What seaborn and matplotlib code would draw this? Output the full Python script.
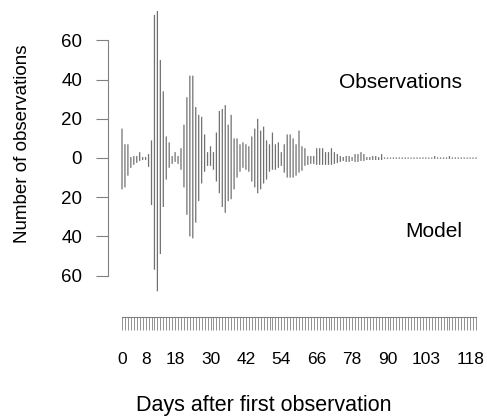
import numpy as np
import pandas as pd
import seaborn as sns
from matplotlib import pyplot as plt

# days after first observation (one bar per day)
days = list(range(121))

# observed counts per day (plotted upwards)
obs = [15, 7, 7, 0.5, 1, 1, 3, 0.5, 0.5, 2,
       9, 73, 75, 50, 34, 11, 8, 1, 3, 1,
       5, 17, 31, 42, 42, 26, 22, 21, 12, 3,
       6, 3, 13, 24, 25, 27, 17, 22, 10, 10,
       7, 8, 7, 6, 11, 15, 20, 14, 16, 9,
       7, 13, 7, 8, 3, 7, 12, 12, 10, 7,
       14, 6, 5, 1, 1, 1, 5, 5, 5, 3,
       3, 5, 3, 2, 1, 0.5, 1, 1, 0.5, 2,
       2, 3, 2, 0.5, 0.5, 1, 1, 0.5, 2, 0.3,
       0.3, 0.3, 0.3, 0.3, 0.3, 0.3, 0.3, 0.3, 0.3, 0.3,
       0.3, 0.3, 0.3, 0.3, 0.3, 0.3, 1, 0.3, 0.3, 0.3,
       0.3, 1, 0.3, 0.3, 0.3, 0.3, 0.3, 0.3, 0.3, 0.3,
       0.3]

# model counts per day (plotted downwards)
model = [16, 15, 9, 5, 3.5, 2.5, 1.5, 1, 1, 4.5,
         24, 57, 68, 49, 25, 11, 5, 3, 2, 3,
         6, 15, 29, 40, 41, 33, 22, 13, 7, 4,
         4, 6, 12, 18, 25, 28, 22, 21, 16, 10,
         7, 5, 6, 7, 12, 15, 18, 16, 13, 11,
         7, 6, 6, 5, 4, 7.5, 10, 10, 10, 9,
         7.5, 6.5, 4, 3.5, 3, 3, 3.5, 3.5, 3.5, 3.5,
         3.5, 3.5, 3, 2.5, 2, 1.5, 2, 2, 1.5, 2,
         2, 1.5, 1.5, 1, 1, 1, 1, 1, 1, 0.4,
         0.4, 0.4, 0.4, 0.4, 0.4, 0.4, 0.4, 0.4, 0.4, 0.4,
         0.4, 0.4, 0.4, 0.4, 0.4, 0.4, 0.5, 0.4, 0.4, 0.4,
         0.4, 0.5, 0.4, 0.4, 0.4, 0.4, 0.4, 0.4, 0.4, 0.4,
         0.4]

day_labels = [0, 8, 18, 30, 42, 54, 66, 78, 90, 103, 118]
y_ticks = [-60, -40, -20, 0, 20, 40, 60]

sns.set_style('white')
plt.rcParams['font.family'] = ['Liberation Sans', 'DejaVu Sans']
plt.rcParams['text.color'] = 'black'

W, H = 487, 418
fig = plt.figure(figsize=(W / 100, H / 100), dpi=100)

# pixel layout: day d at x = 122 + 2.95 d, value v at y = 158 - 1.96 v
px_day, px_val = 2.95, 1.96
ax_l, ax_r, ax_t, ax_b = 108, 480, 5, 300
ax = fig.add_axes([ax_l / W, 1 - ax_b / H, (ax_r - ax_l) / W, (ax_b - ax_t) / H])

bar_col = '#707070'
df = pd.DataFrame({'day': days, 'obs': obs, 'model': [-m for m in model]})
sns.barplot(data=df, x='day', y='obs', color=bar_col, width=0.42,
            saturation=1, errorbar=None, linewidth=0, snap=False, ax=ax)
sns.barplot(data=df, x='day', y='model', color=bar_col, width=0.42,
            saturation=1, errorbar=None, linewidth=0, snap=False, ax=ax)

ax.set_xlim((ax_l - 122) / px_day, (ax_r - 122) / px_day)
ax.set_ylim((158 - ax_b) / px_val, (158 - ax_t) / px_val)

for s in ['top', 'right']:
    ax.spines[s].set_visible(False)
spine_col = '#808080'
ax.spines['left'].set_color(spine_col)
ax.spines['left'].set_bounds(-60, 60)
ax.spines['bottom'].set_color(spine_col)
ax.spines['bottom'].set_position(('outward', 17 * 0.72))
ax.spines['bottom'].set_bounds(0, 120)

ax.set_yticks(y_ticks)
ax.set_yticklabels([str(abs(v)) for v in y_ticks])
ax.set_xticks(days)
ax.set_xticklabels([str(d) if d in day_labels else '' for d in days])
ax.tick_params(axis='y', direction='out', length=8.6, width=0.8,
               color=spine_col, pad=10, labelsize=13.5, labelcolor='black', left=True)
ax.tick_params(axis='x', direction='out', length=9.4, width=0.6,
               color=spine_col, pad=16, labelsize=12.5, labelcolor='black', bottom=True)
ax.set_xlabel('')
ax.set_ylabel('')

fig.text(462 / W, 1 - 82 / H, 'Observations', ha='right', va='center', fontsize=15)
fig.text(462 / W, 1 - 231 / H, 'Model', ha='right', va='center', fontsize=15)
fig.text(23 / W, 1 - 144 / H, 'Number of observations', rotation=90,
         ha='center', va='center', fontsize=13.5)
fig.text(264 / W, 1 - 406 / H, 'Days after first observation',
         ha='center', va='center', fontsize=15.5)

fig.savefig('out.png', dpi=100)
